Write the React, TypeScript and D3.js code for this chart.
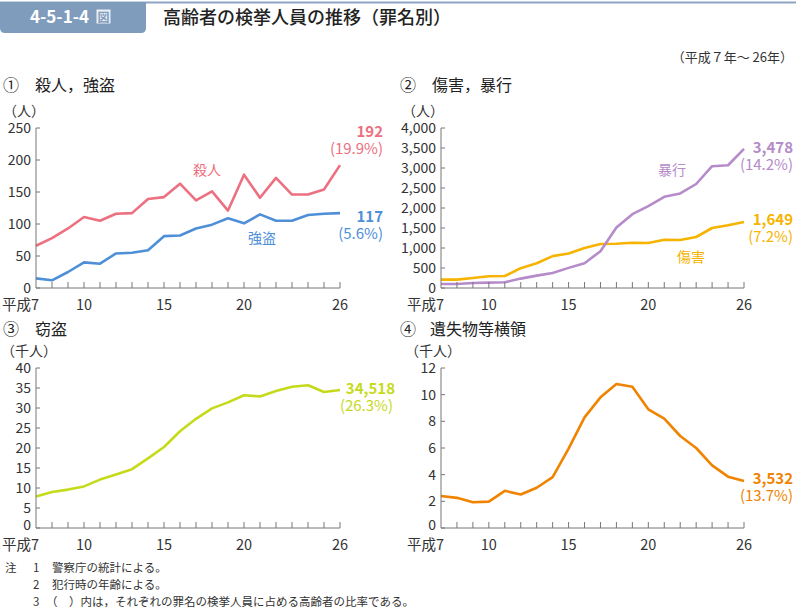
import React from "react";
import * as d3 from "d3";

const years = [7, 8, 9, 10, 11, 12, 13, 14, 15, 16, 17, 18, 19, 20, 21, 22, 23, 24, 25, 26];
const xTickLabels = ["平成7", "10", "15", "20", "26"];
const xTickYears = [7, 10, 15, 20, 26];

const murder = [66, 78, 93, 111, 105, 116, 117, 139, 142, 163, 137, 151, 121, 177, 141, 172, 146, 146, 154, 192];
const robbery = [15, 12, 25, 40, 38, 54, 55, 59, 81, 82, 93, 99, 109, 101, 115, 105, 105, 114, 116, 117];
const assault = [100, 100, 125, 134, 143, 235, 310, 377, 503, 620, 920, 1510, 1845, 2046, 2280, 2365, 2600, 3044, 3069, 3478];
const injury = [210, 210, 250, 293, 300, 495, 620, 797, 864, 998, 1100, 1107, 1132, 1124, 1208, 1200, 1275, 1500, 1568, 1649];
const theft = [7.9, 9.0, 9.6, 10.4, 12.1, 13.4, 14.7, 17.4, 20.25, 24.2, 27.3, 29.9, 31.4, 33.2, 32.9, 34.25, 35.3, 35.7, 34.0, 34.518];
const embezzle = [2.4, 2.26, 1.93, 1.98, 2.79, 2.51, 3.02, 3.82, 5.95, 8.3, 9.8, 10.8, 10.6, 8.9, 8.2, 6.9, 6.0, 4.7, 3.85, 3.532];

const FONT = "'Noto Sans CJK JP', 'Noto Sans', sans-serif";
const TXT = "#333";

const COL = {
  murder: "#ec7080",
  robbery: "#4e8fd8",
  assault: "#b58bc9",
  injury: "#f6b400",
  theft: "#c6da1c",
  embezzle: "#f08300",
};

type Series = { values: number[]; color: string };
type Lbl = { text: string; x: number; y: number; color: string; anchor?: string; size?: number };
type EndLbl = { value: string; pct: string; x: number; x2?: number; y: number; color: string };

function Panel(props: {
  x0: number; x1: number; yTop: number; yBot: number;
  max: number; step: number; fmt: (v: number) => string;
  series: Series[]; labels: Lbl[]; ends: EndLbl[]; lowerZero?: boolean;
}) {
  const { x0, x1, yTop, yBot, max, step, fmt, series, labels, ends, lowerZero } = props;
  const x = d3.scaleLinear().domain([7, 26]).range([x0, x1]);
  const y = d3.scaleLinear().domain([0, max]).range([yBot, yTop]);
  const yTicks = d3.range(0, max + step / 2, step);
  const line = d3.line<number>().x((_, i) => x(years[i])).y((v) => y(v));
  return (
    <g>
      {series.map((s, i) => (
        <path key={i} d={line(s.values) || ""} fill="none" stroke={s.color} strokeWidth={2.6} strokeLinejoin="round" />
      ))}
      <line x1={x0} x2={x0} y1={yTop} y2={yBot} stroke="#777" strokeWidth={1} />
      <line x1={x0} x2={x1} y1={yBot} y2={yBot} stroke="#777" strokeWidth={1} />
      {yTicks.map((t) => (
        <g key={t}>
          <line x1={x0} x2={x0 + 4} y1={y(t)} y2={y(t)} stroke="#777" />
          <text x={x0 - 5} y={y(t) - (t === 0 && lowerZero ? 3 : 0)} dy="0.36em" textAnchor="end" fontSize={14} fill={TXT} fontFamily={FONT}>
            {fmt(t)}
          </text>
        </g>
      ))}
      {years.slice(1).map((yr) => (
        <line key={yr} x1={x(yr)} x2={x(yr)} y1={yBot} y2={yBot - 6} stroke="#777" />
      ))}
      {xTickYears.map((yr, i) => (
        <text key={yr} x={i === 0 ? x(yr) + 3 : x(yr)} y={yBot + 22} textAnchor={i === 0 ? "end" : "middle"} fontSize={14.5} fill={TXT} fontFamily={FONT}>
          {xTickLabels[i]}
        </text>
      ))}
      {labels.map((l, i) => (
        <text key={i} x={l.x} y={l.y} textAnchor={l.anchor || "end"} fontSize={l.size || 14} fill={l.color} fontFamily={FONT}>
          {l.text}
        </text>
      ))}
      {ends.map((e, i) => (
        <text key={"e" + i} y={e.y} textAnchor="end" fontSize={15} fill={e.color} fontFamily={FONT}>
          <tspan x={e.x} fontWeight={700}>{e.value}</tspan>
          <tspan x={e.x2 ?? e.x} dy={16.5}>{e.pct}</tspan>
        </text>
      ))}
    </g>
  );
}

const fmtComma = d3.format(",");
const fmtPlain = (v: number) => String(v);

export default function App() {
  return (
    <div style={{ position: "absolute", left: 0, top: 0 }}>
      <svg width={796} height={609} style={{ display: "block", background: "#fff" }}>
        {/* header */}
        <rect x={0} y={1.5} width={796} height={2} fill="#8ea6c3" />
        <path d="M0,2 H146 V28 Q146,33 141,33 H5 Q0,33 0,28 Z" fill="#7f9cbd" />
        <text x={30} y={23} fontSize={17} fontWeight={700} fill="#fff" fontFamily={FONT}>4-5-1-4</text>
        <rect x={96.5} y={9.5} width={14} height={14} fill="#e9eef5" />
        <text x={103.5} y={21.5} textAnchor="middle" fontSize={12} fontWeight={700} fill="#7f9cbd" fontFamily={FONT}>図</text>
        <text x={163} y={24} fontSize={18} fontWeight={500} fill="#222" fontFamily={FONT}>高齢者の検挙人員の推移（罪名別）</text>
        <text x={793} y={62} textAnchor="end" fontSize={13} fill={TXT} fontFamily={FONT}>（平成７年～ 26年）</text>

        {/* panel titles */}
        <text x={3} y={91} fontSize={16} fill="#222" fontFamily={FONT}>①</text>
        <text x={35} y={91} fontSize={16} fill="#222" fontFamily={FONT}>殺人，強盗</text>
        <text x={400} y={91} fontSize={16} fill="#222" fontFamily={FONT}>②</text>
        <text x={432} y={91} fontSize={16} fill="#222" fontFamily={FONT}>傷害，暴行</text>
        <text x={3} y={335} fontSize={16} fill="#222" fontFamily={FONT}>③</text>
        <text x={35} y={335} fontSize={16} fill="#222" fontFamily={FONT}>窃盗</text>
        <text x={400} y={335} fontSize={16} fill="#222" fontFamily={FONT}>④</text>
        <text x={430} y={335} fontSize={16} fill="#222" fontFamily={FONT}>遺失物等横領</text>

        {/* units */}
        <text x={3} y={116} fontSize={14} fill={TXT} fontFamily={FONT}>（人）</text>
        <text x={402} y={116} fontSize={14} fill={TXT} fontFamily={FONT}>（人）</text>
        <text x={1} y={356} fontSize={14} fill={TXT} fontFamily={FONT}>（千人）</text>
        <text x={405} y={356} fontSize={14} fill={TXT} fontFamily={FONT}>（千人）</text>

        <Panel x0={36} x1={340} yTop={128} yBot={288} max={250} step={50} fmt={fmtPlain}
          series={[{ values: murder, color: COL.murder }, { values: robbery, color: COL.robbery }]}
          ends={[
            { value: "192", pct: "(19.9%)", x: 383, y: 137, color: COL.murder },
            { value: "117", pct: "(5.6%)", x: 383, y: 222, color: COL.robbery },
          ]}
          labels={[
            { text: "殺人", x: 207, y: 175, color: COL.murder, anchor: "middle" },
            { text: "強盗", x: 262, y: 243, color: COL.robbery, anchor: "middle" },
          ]} />
        <Panel x0={441} x1={744} yTop={128} yBot={288} max={4000} step={500} fmt={fmtComma}
          series={[{ values: injury, color: COL.injury }, { values: assault, color: COL.assault }]}
          ends={[
            { value: "3,478", pct: "(14.2%)", x: 793, y: 153, color: COL.assault },
            { value: "1,649", pct: "(7.2%)", x: 793, y: 225, color: COL.injury },
          ]}
          labels={[
            { text: "暴行", x: 672, y: 175, color: COL.assault, anchor: "middle" },
            { text: "傷害", x: 691, y: 262, color: COL.injury, anchor: "middle" },
          ]} />
        <Panel x0={36} x1={340} yTop={368} yBot={528} max={40} step={5} fmt={fmtPlain} lowerZero
          series={[{ values: theft, color: COL.theft }]}
          ends={[{ value: "34,518", pct: "(26.3%)", x: 395, x2: 393, y: 394, color: COL.theft }]}
          labels={[]} />
        <Panel x0={441} x1={744} yTop={368} yBot={528} max={12} step={2} fmt={fmtPlain} lowerZero
          series={[{ values: embezzle, color: COL.embezzle }]}
          ends={[{ value: "3,532", pct: "(13.7%)", x: 793, y: 484, color: COL.embezzle }]}
          labels={[]} />

        {/* footnotes */}
        <g fontFamily={FONT} fontSize={11.5} fill="#333">
          <text x={5} y={572}>注</text>
          <text x={33} y={572}>1</text>
          <text x={52} y={572}>警察庁の統計による。</text>
          <text x={33} y={589}>2</text>
          <text x={52} y={589}>犯行時の年齢による。</text>
          <text x={33} y={606}>3</text>
          <text x={46} y={606}>（　）内は，それぞれの罪名の検挙人員に占める高齢者の比率である。</text>
        </g>
      </svg>
    </div>
  );
}
